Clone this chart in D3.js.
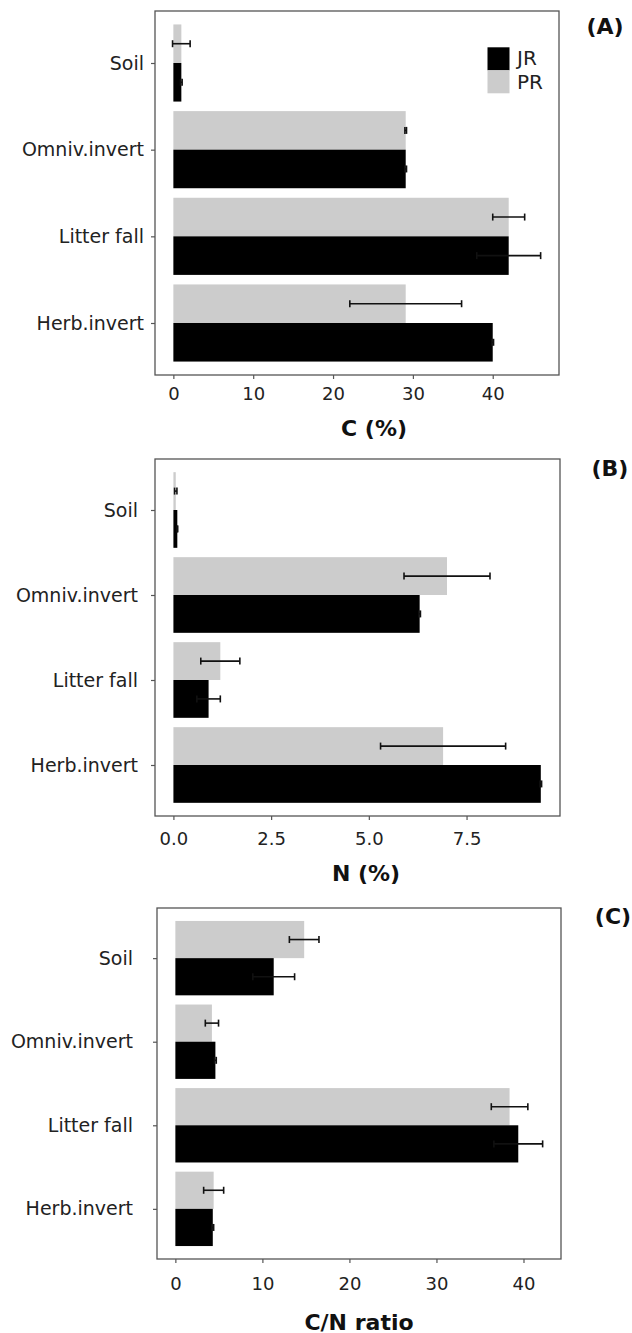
<!DOCTYPE html>
<html>
<head>
<meta charset="utf-8">
<script src="https://cdn.jsdelivr.net/npm/d3@7"></script>
<style>
  body { margin: 0; background: #ffffff; }
  svg { display: block; font-family: "DejaVu Sans", sans-serif; }
</style>
</head>
<body>
<svg id="chart" width="632" height="1333"></svg>
<script>
// ---- data ----
const categories = ["Soil", "Omniv.invert", "Litter fall", "Herb.invert"];
const seriesNames = ["JR", "PR"];
const seriesColors = ["#000000", "#cccccc"];

// Panel A: C (%)
const carbonJR = [1.0, 29.1, 42.0, 40.0];
const carbonJRerr = [0.1, 0.1, 4.0, 0.1];
const carbonPR = [1.0, 29.1, 42.0, 29.1];
const carbonPRerr = [1.1, 0.1, 2.0, 7.0];
const carbonTicks = [0, 10, 20, 30, 40];
const carbonTickLabels = ["0", "10", "20", "30", "40"];

// Panel B: N (%)
const nitrogenJR = [0.1, 6.3, 0.9, 9.4];
const nitrogenJRerr = [0.01, 0.02, 0.3, 0.02];
const nitrogenPR = [0.06, 7.0, 1.2, 6.9];
const nitrogenPRerr = [0.03, 1.1, 0.5, 1.6];
const nitrogenTicks = [0, 2.5, 5, 7.5];
const nitrogenTickLabels = ["0.0", "2.5", "5.0", "7.5"];

// Panel C: C/N ratio
const ratioJR = [11.3, 4.6, 39.4, 4.3];
const ratioJRerr = [2.4, 0.1, 2.8, 0.1];
const ratioPR = [14.8, 4.2, 38.4, 4.4];
const ratioPRerr = [1.7, 0.76, 2.1, 1.15];
const ratioTicks = [0, 10, 20, 30, 40];
const ratioTickLabels = ["0", "10", "20", "30", "40"];

const svg = d3.select("#chart");

const panels = [
  { tag: "(A)", xlabel: "C (%)", jr: carbonJR, jrErr: carbonJRerr, pr: carbonPR, prErr: carbonPRerr,
    ticks: carbonTicks, tickLabels: carbonTickLabels,
    frame: { x0: 155, x1: 559, y0: 11, y1: 375 }, catPad: 7, xPad: 8,
    xlabelPos: [374, 428], tagPos: [605, 26], legend: true },
  { tag: "(B)", xlabel: "N (%)", jr: nitrogenJR, jrErr: nitrogenJRerr, pr: nitrogenPR, prErr: nitrogenPRerr,
    ticks: nitrogenTicks, tickLabels: nitrogenTickLabels,
    frame: { x0: 155, x1: 560, y0: 459, y1: 816 }, catPad: 13, xPad: 12,
    xlabelPos: [366, 873], tagPos: [610, 468], legend: false },
  { tag: "(C)", xlabel: "C/N ratio", jr: ratioJR, jrErr: ratioJRerr, pr: ratioPR, prErr: ratioPRerr,
    ticks: ratioTicks, tickLabels: ratioTickLabels,
    frame: { x0: 157, x1: 561, y0: 908, y1: 1259 }, catPad: 20, xPad: 14,
    xlabelPos: [359, 1322], tagPos: [613, 916], legend: false }
];

const barH = 0.445;

panels.forEach(p => {
  const f = p.frame;
  const maxV = d3.max([
    ...p.jr.map((v, i) => v + p.jrErr[i]),
    ...p.pr.map((v, i) => v + p.prErr[i])
  ]);
  const x = d3.scaleLinear().domain([-0.05 * maxV, 1.05 * maxV]).range([f.x0, f.x1]);
  const y = d3.scaleLinear().domain([-0.6, 3.6]).range([f.y0, f.y1]);

  const g = svg.append("g");

  g.append("rect").attr("x", f.x0).attr("y", f.y0)
    .attr("width", f.x1 - f.x0).attr("height", f.y1 - f.y0)
    .attr("fill", "#ffffff");

  const series = [
    { name: "PR", vals: p.pr, errs: p.prErr, color: seriesColors[1], off: -barH },
    { name: "JR", vals: p.jr, errs: p.jrErr, color: seriesColors[0], off: 0 }
  ];

  series.forEach(s => {
    g.selectAll(null).data(s.vals).enter().append("rect")
      .attr("x", x(0))
      .attr("y", (d, i) => y(i + s.off))
      .attr("width", d => x(d) - x(0))
      .attr("height", y(barH) - y(0))
      .attr("fill", s.color);
  });

  series.forEach(s => {
    const eg = g.append("g").attr("stroke", "#111111").attr("stroke-width", 1.6);
    s.vals.forEach((v, i) => {
      const cy = y(i + s.off + barH / 2);
      const xa = x(v - s.errs[i]), xb = x(v + s.errs[i]);
      eg.append("line").attr("x1", xa).attr("x2", xb).attr("y1", cy).attr("y2", cy);
      eg.append("line").attr("x1", xa).attr("x2", xa).attr("y1", cy - 3.5).attr("y2", cy + 3.5);
      eg.append("line").attr("x1", xb).attr("x2", xb).attr("y1", cy - 3.5).attr("y2", cy + 3.5);
    });
  });

  g.append("rect").attr("x", f.x0).attr("y", f.y0)
    .attr("width", f.x1 - f.x0).attr("height", f.y1 - f.y0)
    .attr("fill", "none").attr("stroke", "#555555").attr("stroke-width", 1.3);

  const xAxis = d3.axisBottom(x).tickValues(p.ticks)
    .tickFormat((d, i) => p.tickLabels[i]).tickSize(4).tickPadding(p.xPad);
  const xg = g.append("g").attr("transform", `translate(0,${f.y1})`).call(xAxis);
  xg.select(".domain").remove();
  xg.selectAll("line").attr("stroke", "#555555").attr("stroke-width", 1.2);
  xg.selectAll("text").attr("font-size", 18).attr("fill", "#222222")
    .attr("font-family", "DejaVu Sans, sans-serif");

  const yAxis = d3.axisLeft(y).tickValues([0, 1, 2, 3])
    .tickFormat(i => categories[i]).tickSize(4).tickPadding(p.catPad);
  const yg = g.append("g").attr("transform", `translate(${f.x0},0)`).call(yAxis);
  yg.select(".domain").remove();
  yg.selectAll("line").attr("stroke", "#555555").attr("stroke-width", 1.2);
  yg.selectAll("text").attr("font-size", 19).attr("fill", "#222222")
    .attr("font-family", "DejaVu Sans, sans-serif");

  g.append("text").attr("x", p.xlabelPos[0]).attr("y", p.xlabelPos[1])
    .attr("text-anchor", "middle").attr("dominant-baseline", "central")
    .attr("font-size", 22).attr("font-weight", "bold").attr("fill", "#111111")
    .text(p.xlabel);

  g.append("text").attr("x", p.tagPos[0]).attr("y", p.tagPos[1])
    .attr("text-anchor", "middle").attr("dominant-baseline", "central")
    .attr("font-size", 22).attr("font-weight", "bold").attr("fill", "#111111")
    .text(p.tag);

  if (p.legend) {
    const lg = g.append("g");
    seriesNames.forEach((n, i) => {
      lg.append("rect").attr("x", 487.5).attr("y", 47.3 + i * 23)
        .attr("width", 22).attr("height", 23).attr("fill", seriesColors[i]);
      lg.append("text").attr("x", 517).attr("y", 57.5 + i * 24.5)
        .attr("dominant-baseline", "central").attr("font-size", 20)
        .attr("fill", "#222222").text(n);
    });
  }
});
</script>
</body>
</html>
